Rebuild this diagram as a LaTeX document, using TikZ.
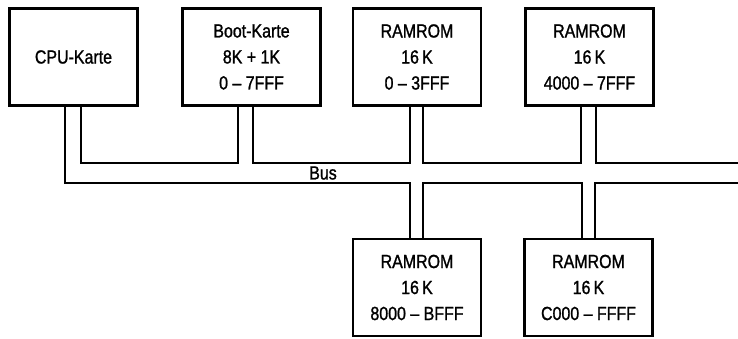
\documentclass[tikz,border=0pt]{standalone}
\usepackage{fontspec}
\setmainfont{Liberation Sans}[FakeStretch=0.84, FakeBold=1.2]
\usetikzlibrary{positioning, calc}
\tikzset{
	card/.style={rectangle, draw=black, line width=2.6pt, align=center, minimum width=128pt, minimum height=97pt, inner sep=0pt, font=\fontsize{19}{26}\selectfont},
	widecard/.style={card, minimum width=138pt},
	bus/.style={line width=1.3pt, draw=black},
	buslabel/.style={inner sep=0pt, font=\fontsize{19}{22}\selectfont},
}
\begin{document}
\begin{tikzpicture}[x=1pt, y=-1pt]
		\useasboundingbox (0,0) rectangle (738,339);
		% cards on the bus
		\node[card] (cpu) at (73.5,57) {CPU-Karte};
		\node[widecard] (boot) at (251.5,57) {Boot-Karte\\8K + 1K\\0 -- 7FFF};
		\node[card] (ram1) at (417,57) {RAMROM\\16\,K\\0 -- 3FFF};
		\node[card] (ram2) at (589.5,57) {RAMROM\\16\,K\\4000 -- 7FFF};
		\node[card] (ram3) at (417,287.5) {RAMROM\\16\,K\\8000 -- BFFF};
		\node[card] (ram4) at (588.5,287.5) {RAMROM\\16\,K\\C000 -- FFFF};
		% bus levels
		\coordinate (inner) at (0,163);
		\coordinate (outer) at (0,183);
		\coordinate (edge) at (738,0);
		\foreach \n/\l/\r in {cpu/-8.5/7.5, boot/-13.5/1.5, ram1/-7/6, ram2/-8.5/6.5} {
			\coordinate (\n-l) at ([xshift=\l]\n.south);
			\coordinate (\n-r) at ([xshift=\r]\n.south);
		}
		\foreach \n/\l/\r in {ram3/-7/6, ram4/-6.5/6.5} {
			\coordinate (\n-l) at ([xshift=\l]\n.north);
			\coordinate (\n-r) at ([xshift=\r]\n.north);
		}
		\draw[bus] (cpu-r) |- (boot-l |- inner) -- (boot-l);
		\draw[bus] (boot-r) |- (ram1-l |- inner) -- (ram1-l);
		\draw[bus] (ram1-r) |- (ram2-l |- inner) -- (ram2-l);
		\draw[bus] (ram2-r) |- (edge |- inner);
		\draw[bus] (cpu-l) |- (ram3-l |- outer) -- (ram3-l);
		\draw[bus] (ram3-r) |- (ram4-l |- outer) -- (ram4-l);
		\draw[bus] (ram4-r) |- (edge |- outer);
		\node[buslabel] (buslbl) at (323,173) {Bus};
	\end{tikzpicture}
\end{document}
